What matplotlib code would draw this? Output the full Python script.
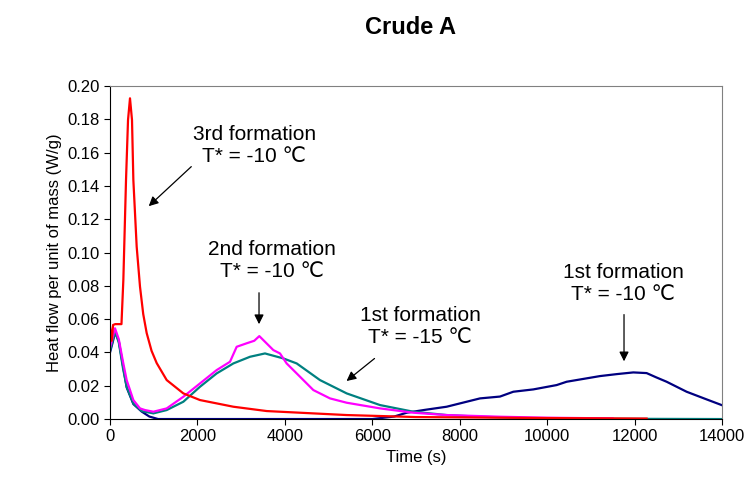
import matplotlib
matplotlib.use('Agg')
import matplotlib.pyplot as plt

plt.rcParams['font.family'] = ['Liberation Sans', 'DejaVu Sans']

# 1st formation, T* = -10 C (navy)
t_first10 = [0, 60, 114, 200, 381, 534, 724, 900, 1100, 2000, 4000, 6000, 6500, 6787, 7200, 7702,
             8465, 8922, 9227, 9685, 10218, 10447, 11210, 11600, 11972, 12277, 12500, 12735,
             13192, 13650, 13993]
v_first10 = [0.040, 0.046, 0.052, 0.047, 0.019, 0.009, 0.0045, 0.0015, 0.0, 0.0, 0.0, 0.0, 0.0015,
             0.0038, 0.0055, 0.0074, 0.0124, 0.0135, 0.0164, 0.0178, 0.0204, 0.0224, 0.0258, 0.027,
             0.028, 0.0276, 0.025, 0.0224, 0.0164, 0.0118, 0.0084]

# 1st formation, T* = -15 C (teal)
t_first15 = [0, 60, 114, 200, 300, 381, 534, 724, 992, 1297, 1678, 2059, 2440, 2822, 3203, 3546,
             3600, 3966, 4271, 4804, 5415, 6177, 6940, 7702, 8465, 9500, 11000, 14000]
v_first15 = [0.041, 0.047, 0.0525, 0.046, 0.030, 0.0194, 0.0094, 0.0048, 0.0034, 0.0054, 0.0104,
             0.0194, 0.0274, 0.0334, 0.0374, 0.0394, 0.039, 0.0364, 0.0334, 0.0234, 0.0154, 0.0084,
             0.0044, 0.0024, 0.0014, 0.0006, 0.0002, 0.0]

# 2nd formation, T* = -10 C (magenta)
t_second = [0, 60, 114, 200, 300, 381, 534, 686, 800, 992, 1297, 1678, 2059, 2440, 2745, 2898,
            3127, 3300, 3416, 3737, 3889, 4041, 4271, 4652, 5033, 5415, 6177, 6940, 7702, 8922,
            10000, 11500]
v_second = [0.043, 0.049, 0.0545, 0.048, 0.034, 0.0234, 0.0114, 0.0064, 0.0054, 0.0044, 0.0064,
            0.0134, 0.0214, 0.0294, 0.0344, 0.0434, 0.0455, 0.047, 0.0498, 0.0414, 0.0394, 0.0334,
            0.0274, 0.0174, 0.0124, 0.0098, 0.0064, 0.0038, 0.0024, 0.0014, 0.0008, 0.0004]

# 3rd formation, T* = -10 C (red)
t_third = [0, 40, 70, 120, 262, 305, 366, 412, 457, 503, 534, 610, 686, 760, 839, 950, 1068, 1297,
           1678, 2059, 2822, 3585, 3889, 5415, 7000, 8000, 10000, 12277]
v_third = [0.0554, 0.047, 0.0565, 0.057, 0.057, 0.0835, 0.1435, 0.1796, 0.1926, 0.1796, 0.1435,
           0.1035, 0.0795, 0.063, 0.0516, 0.041, 0.0336, 0.0234, 0.0154, 0.0114, 0.0074, 0.0048,
           0.0044, 0.0024, 0.0012, 0.001, 0.0006, 0.0003]

x_ticks = [0, 2000, 4000, 6000, 8000, 10000, 12000, 14000]
y_ticks = [0.00, 0.02, 0.04, 0.06, 0.08, 0.10, 0.12, 0.14, 0.16, 0.18, 0.20]

fig = plt.figure(figsize=(7.52, 4.93), dpi=100)
ax = fig.add_axes([0.1463, 0.150, 0.8137, 0.6756])

ax.plot(t_first10, v_first10, color='#000080', lw=1.6)
ax.plot(t_first15, v_first15, color='#008080', lw=1.6)
ax.plot(t_second, v_second, color='#FF00FF', lw=1.6)
ax.plot(t_third, v_third, color='#FF0000', lw=1.6)

ax.set_xlim(0, 14000)
ax.set_ylim(0, 0.20)
ax.set_xticks(x_ticks)
ax.set_yticks(y_ticks)
ax.set_yticklabels(['%.2f' % v for v in y_ticks])
ax.tick_params(direction='out', labelsize=12, length=4)
for s in ['top', 'right']:
    ax.spines[s].set_color('#808080')

ax.set_xlabel('Time (s)', fontsize=12)
ax.set_ylabel('Heat flow per unit of mass (W/g)', fontsize=12)
fig.text(0.546, 0.945, 'Crude A', ha='center', va='center', fontsize=17, fontweight='bold')

arrow = dict(arrowstyle='-|>', color='black', lw=0.9, mutation_scale=14)
ax.text(3300, 0.164, '3rd formation\nT* = -10 ℃', ha='center', va='center', fontsize=15)
ax.annotate('', xy=(839, 0.1267), xytext=(1906, 0.1527), arrowprops=arrow)
ax.text(3700, 0.0955, '2nd formation\nT* = -10 ℃', ha='center', va='center', fontsize=15)
ax.annotate('', xy=(3409, 0.0553), xytext=(3409, 0.0775), arrowprops=arrow)
ax.text(7100, 0.0555, '1st formation\nT* = -15 ℃', ha='center', va='center', fontsize=15)
ax.annotate('', xy=(5362, 0.0218), xytext=(6101, 0.0374), arrowprops=arrow)
ax.text(11740, 0.0815, '1st formation\nT* = -10 ℃', ha='center', va='center', fontsize=15)
ax.annotate('', xy=(11760, 0.0330), xytext=(11760, 0.0644), arrowprops=arrow)

fig.savefig('out.png', dpi=100)
